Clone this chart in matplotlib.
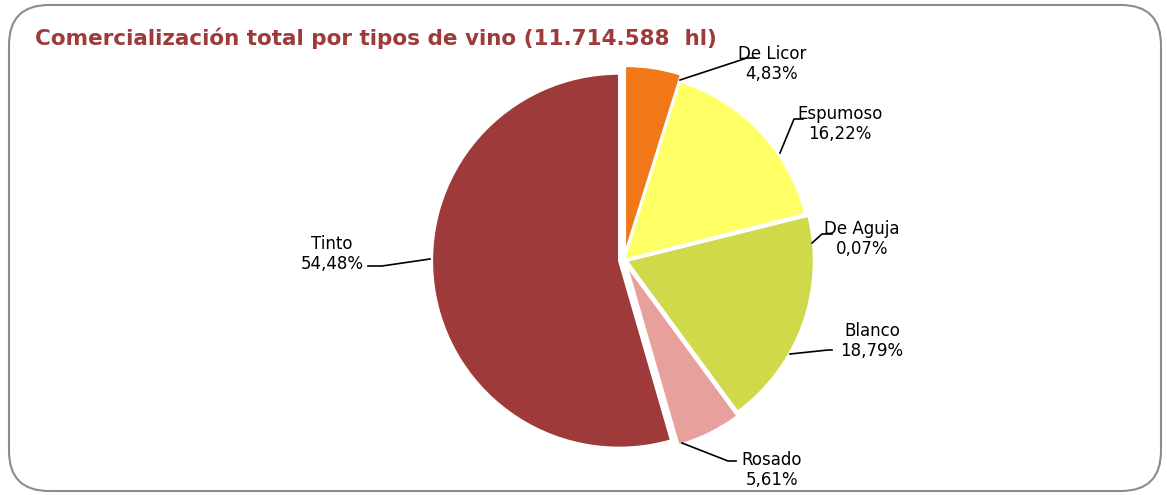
import matplotlib.pyplot as plt
from matplotlib.patches import FancyBboxPatch

# datos
tipos = ['De Licor', 'Espumoso', 'De Aguja', 'Blanco', 'Rosado', 'Tinto']
porcentajes = [4.83, 16.22, 0.07, 18.79, 5.61, 54.48]
colores = ['#f07818', '#ffff66', '#e8a09c', '#cfd94a', '#e8a09c', '#9e3b3a']
# separacion en pixeles (pie usa unidades de datos)
separacion = [7, 0, 0, 3, 6, 5]

# posiciones de etiquetas y lineas guia (pixeles, y hacia abajo)
etiquetas_xy = [(772, 64), (840, 124), (862, 239), (872, 341), (772, 470), (332, 254)]
lineas = [
    [(680, 80), (747, 58), (755, 58)],
    [(780, 153), (794, 119), (803, 119)],
    [(812, 243), (822, 234), (832, 234)],
    [(790, 354), (828, 350), (832, 350)],
    [(682, 443), (728, 461), (736, 461)],
    [(430, 259), (382, 266), (368, 266)],
]

W, H = 1167, 495
fig = plt.figure(figsize=(W / 100, H / 100), dpi=100)
ax = fig.add_axes([0, 0, 1, 1])

# marco redondeado
marco = FancyBboxPatch((9, 4), 1152, 486, boxstyle='round,pad=0,rounding_size=40',
                       fc='white', ec='#8c8c8c', lw=1.5)
ax.add_patch(marco)

ax.pie(porcentajes, colors=colores, explode=separacion, startangle=90,
       counterclock=False, center=(624, H - 260), radius=187,
       wedgeprops=dict(edgecolor='white', linewidth=1.5), frame=True)
ax.set_xlim(0, W)
ax.set_ylim(0, H)
ax.set_aspect('equal')
ax.axis('off')

for t, p, (x, y) in zip(tipos, porcentajes, etiquetas_xy):
    txt = t + '\n' + ('%.2f' % p).replace('.', ',') + '%'
    ax.text(x, H - y, txt, ha='center', va='center', fontsize=12,
            linespacing=1.2, color='black')

for ln in lineas:
    ax.plot([p[0] for p in ln], [H - p[1] for p in ln], color='black', lw=1.2)

ax.text(35, H - 38, 'Comercialización total por tipos de vino (11.714.588  hl)',
        ha='left', va='center', fontsize=15.5, fontweight='bold', color='#9e3b3a')

fig.savefig('out.png', dpi=100)
